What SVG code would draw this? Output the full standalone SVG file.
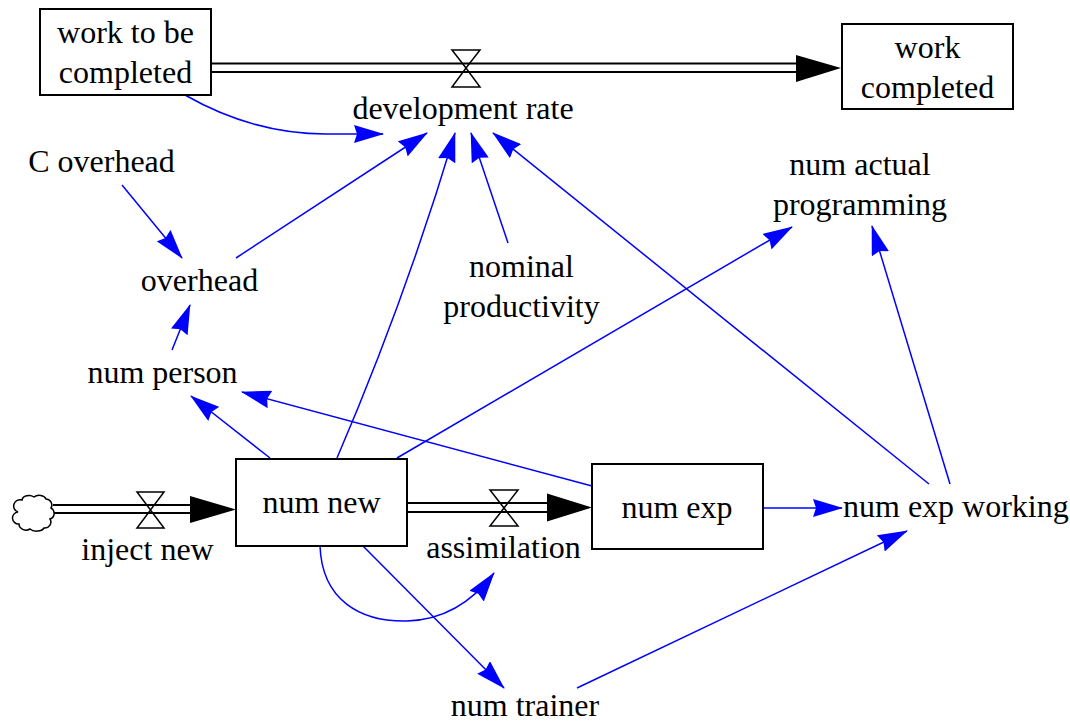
<svg xmlns="http://www.w3.org/2000/svg" width="1070" height="725" viewBox="0 0 1070 725">
<style>
.t{font-family:"Liberation Serif","Times New Roman",serif;font-size:32px;fill:#000;text-anchor:middle}
.ts{font-family:"Liberation Serif","Times New Roman",serif;font-size:32px;fill:#000;text-anchor:start}
.stock{fill:#fff;stroke:#000;stroke-width:2}
.pipe{stroke:#000;stroke-width:2;fill:none}
.valve{fill:none;stroke:#000;stroke-width:1.5;stroke-linejoin:miter}
.head{fill:#000}
.link{fill:none;stroke:#0000ff;stroke-width:1.5;marker-end:url(#ah)}
</style>
<defs>
<marker id="ah" viewBox="0 0 30 18" refX="29" refY="9" markerWidth="30" markerHeight="18" markerUnits="userSpaceOnUse" orient="auto">
<path d="M0,0 L30,9 L0,18 L3,9 Z" fill="#0000ff"/>
</marker>
</defs>
<rect width="1070" height="725" fill="#fff"/>

<g id="connectors">
<path class="link" d="M185,95 Q255,135 330,134 L383,134"/>
<path class="link" d="M122,185 L182,258"/>
<path class="link" d="M236,258 L427,133"/>
<path class="link" d="M172,350 L190,305"/>
<path class="link" d="M270,458 L191,396"/>
<path class="link" d="M592,486 L242,392"/>
<path class="link" d="M337,458 Q405,300 455,133"/>
<path class="link" d="M508,243 L471,133"/>
<path class="link" d="M929,484 L493,133"/>
<path class="link" d="M397,458 L792,227"/>
<path class="link" d="M950,484 L872,226"/>
<path class="link" d="M763,508 L842,508"/>
<path class="link" d="M320,546 C322,600 360,622 407,621 C440,620 470,605 494,573"/>
<path class="link" d="M363,546 L504,688"/>
<path class="link" d="M577,688 L907,531"/>
</g>

<g id="flow-development-rate">
<line class="pipe" x1="211" y1="63.5" x2="798" y2="63.5"/>
<line class="pipe" x1="211" y1="72" x2="798" y2="72"/>
<polygon class="head" points="796,55 841,68 796,82"/>
<path class="valve" d="M452,50 L480,50 L466,68 Z M452,87 L480,87 L466,68 Z"/>
<text class="t" x="463" y="119">development rate</text>
</g>

<g id="flow-inject-new">
<line class="pipe" x1="53" y1="505" x2="192" y2="505"/>
<line class="pipe" x1="53" y1="513" x2="192" y2="513"/>
<polygon class="head" points="190,496 236,509.5 190,523"/>
<path class="valve" d="M137,492 L164,492 L150.5,510 Z M137,528 L164,528 L150.5,510 Z"/>
<text class="t" x="147.5" y="560">inject new</text>
</g>

<g id="flow-assimilation">
<line class="pipe" x1="407" y1="503" x2="549" y2="503"/>
<line class="pipe" x1="407" y1="512" x2="549" y2="512"/>
<polygon class="head" points="547,493.5 592,507.5 547,521.5"/>
<path class="valve" d="M490,490 L518,490 L504,508 Z M490,526 L518,526 L504,508 Z"/>
<text class="t" x="503.5" y="558">assimilation</text>
</g>

<g id="cloud">
<path d="M22,500 A7,5 0 0 1 34,497 A7,5 0 0 1 46,499 A6,6 0 0 1 51,508 A6,6 0 0 1 50,519 A6,6 0 0 1 44,528 A8,5 0 0 1 30,529 A7,6 0 0 1 19,524 A6,6 0 0 1 18,512 A6,6 0 0 1 22,500 Z" fill="#fff" stroke="#000" stroke-width="1.5"/>
</g>

<g id="work-to-be-completed">
<rect class="stock" x="40" y="9" width="171" height="86"/>
<text class="t" x="125.5" y="43">work to be</text>
<text class="t" x="125.5" y="83">completed</text>
</g>

<g id="work-completed">
<rect class="stock" x="842" y="24" width="171" height="85"/>
<text class="t" x="927.5" y="58">work</text>
<text class="t" x="927.5" y="98">completed</text>
</g>

<g id="num-new">
<rect class="stock" x="236" y="459" width="171" height="87"/>
<text class="t" x="321.5" y="513">num new</text>
</g>

<g id="num-exp">
<rect class="stock" x="592" y="464" width="171" height="85"/>
<text class="t" x="677" y="518">num exp</text>
</g>

<g id="c-overhead"><text class="t" x="101.5" y="172">C overhead</text></g>
<g id="overhead"><text class="t" x="199.5" y="291">overhead</text></g>
<g id="num-person"><text class="t" x="162.5" y="383">num person</text></g>
<g id="nominal-productivity">
<text class="t" x="521.5" y="277">nominal</text>
<text class="t" x="521.5" y="317">productivity</text>
</g>
<g id="num-actual-programming">
<text class="t" x="860" y="175">num actual</text>
<text class="t" x="860" y="215">programming</text>
</g>
<g id="num-exp-working"><text class="ts" x="843" y="517">num exp working</text></g>
<g id="num-trainer"><text class="t" x="525" y="716">num trainer</text></g>
</svg>
